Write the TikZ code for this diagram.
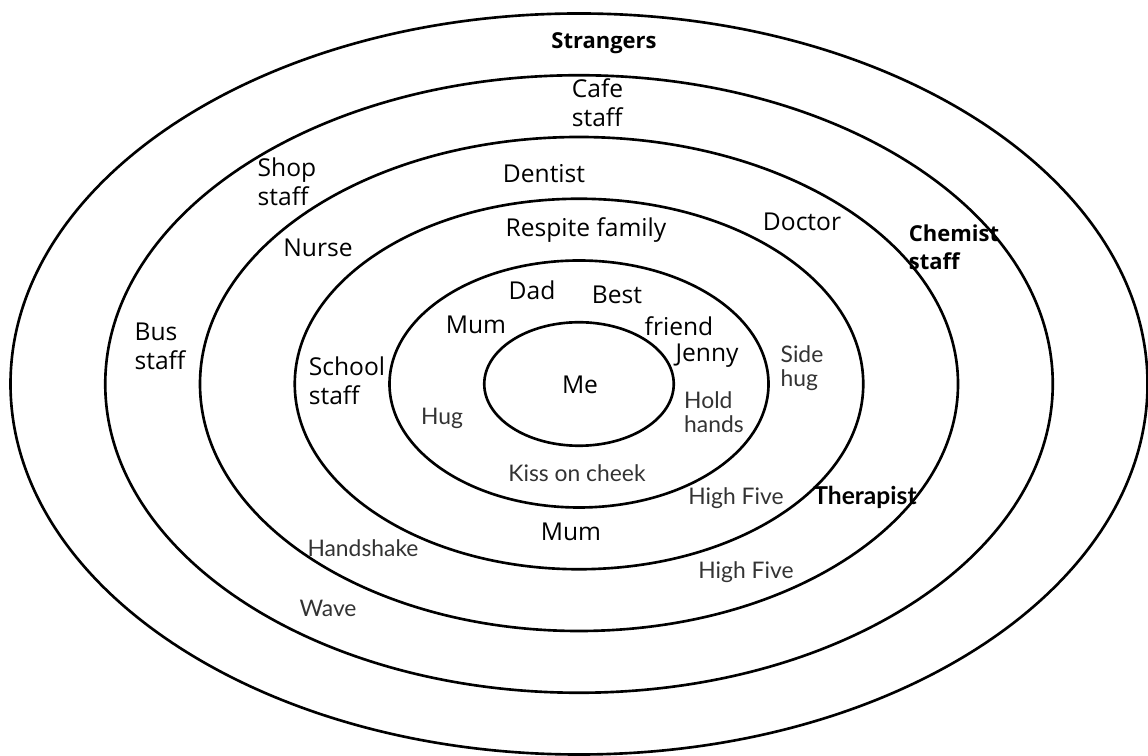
\documentclass[tikz,border=0pt]{standalone}
\usepackage{fontspec}
\setmainfont{Open Sans}
\newfontfamily\gestfont{Lato}

\begin{document}
\begin{tikzpicture}[
  lbl/.style={font=\fontsize{14}{16.5}\selectfont,align=left,inner sep=0pt},
  gest/.style={font=\gestfont\fontsize{13}{14}\selectfont,text=black!80,align=left,inner sep=0pt}]
\useasboundingbox (0,0) rectangle (22.96,15.1);
\coordinate (c) at (11.58,7.42);
\foreach \k in {1,...,6}
  \draw[line width=1.5pt] (c) ellipse ({1.895*\k} and {1.235*\k});
% circle labels
\node[lbl] (me) at (11.6,7.4) {Me};
\node[lbl] (mum1) at (9.52,8.6) {Mum};
\node[lbl] (dad) at (10.64,9.3) {Dad};
\node[lbl] (best) at (12.34,9.2) {Best};
\node[lbl] (friend) at (13.58,8.58) {friend};
\node[lbl] (jenny) at (14.14,7.98) {Jenny};
\node[lbl] (respite) at (11.72,10.5) {Respite family};
\node[lbl] (school) at (6.94,7.48) {School\\staff};
\node[lbl] (mum2) at (11.42,4.46) {Mum};
\node[lbl] (dentist) at (10.88,11.62) {Dentist};
\node[lbl] (nurse) at (6.36,10.14) {Nurse};
\node[lbl] (doctor) at (16.04,10.66) {Doctor};
\node[gest,font=\gestfont\bfseries\fontsize{14}{15}\selectfont,text=black] (therapist) at (17.3,5.16) {Therapist};
\node[lbl] (cafe) at (11.95,13.04) {Cafe\\staff};
\node[lbl] (shop) at (5.74,11.46) {Shop\\staff};
\node[lbl] (bus) at (3.2,8.18) {Bus\\staff};
\node[lbl,font=\bfseries\fontsize{12.5}{16}\selectfont] (chemist) at (19.08,10.16) {Chemist\\staff};
\node[lbl,font=\bfseries\fontsize{12.5}{15}\selectfont] (strangers) at (12.08,14.24) {Strangers};
% gestures
\node[gest] (holdhands) at (14.28,6.86) {Hold\\hands};
\node[gest] (hug) at (8.84,6.74) {Hug};
\node[gest] (kiss) at (11.54,5.64) {Kiss on cheek};
\node[gest] (sidehug) at (16.04,7.74) {Side\\hug};
\node[gest] (five1) at (14.72,5.14) {High Five};
\node[gest] (five2) at (14.92,3.66) {High Five};
\node[gest] (handshake) at (7.26,4.14) {Handshake};
\node[gest] (wave) at (6.56,2.94) {Wave};
\end{tikzpicture}
\end{document}
